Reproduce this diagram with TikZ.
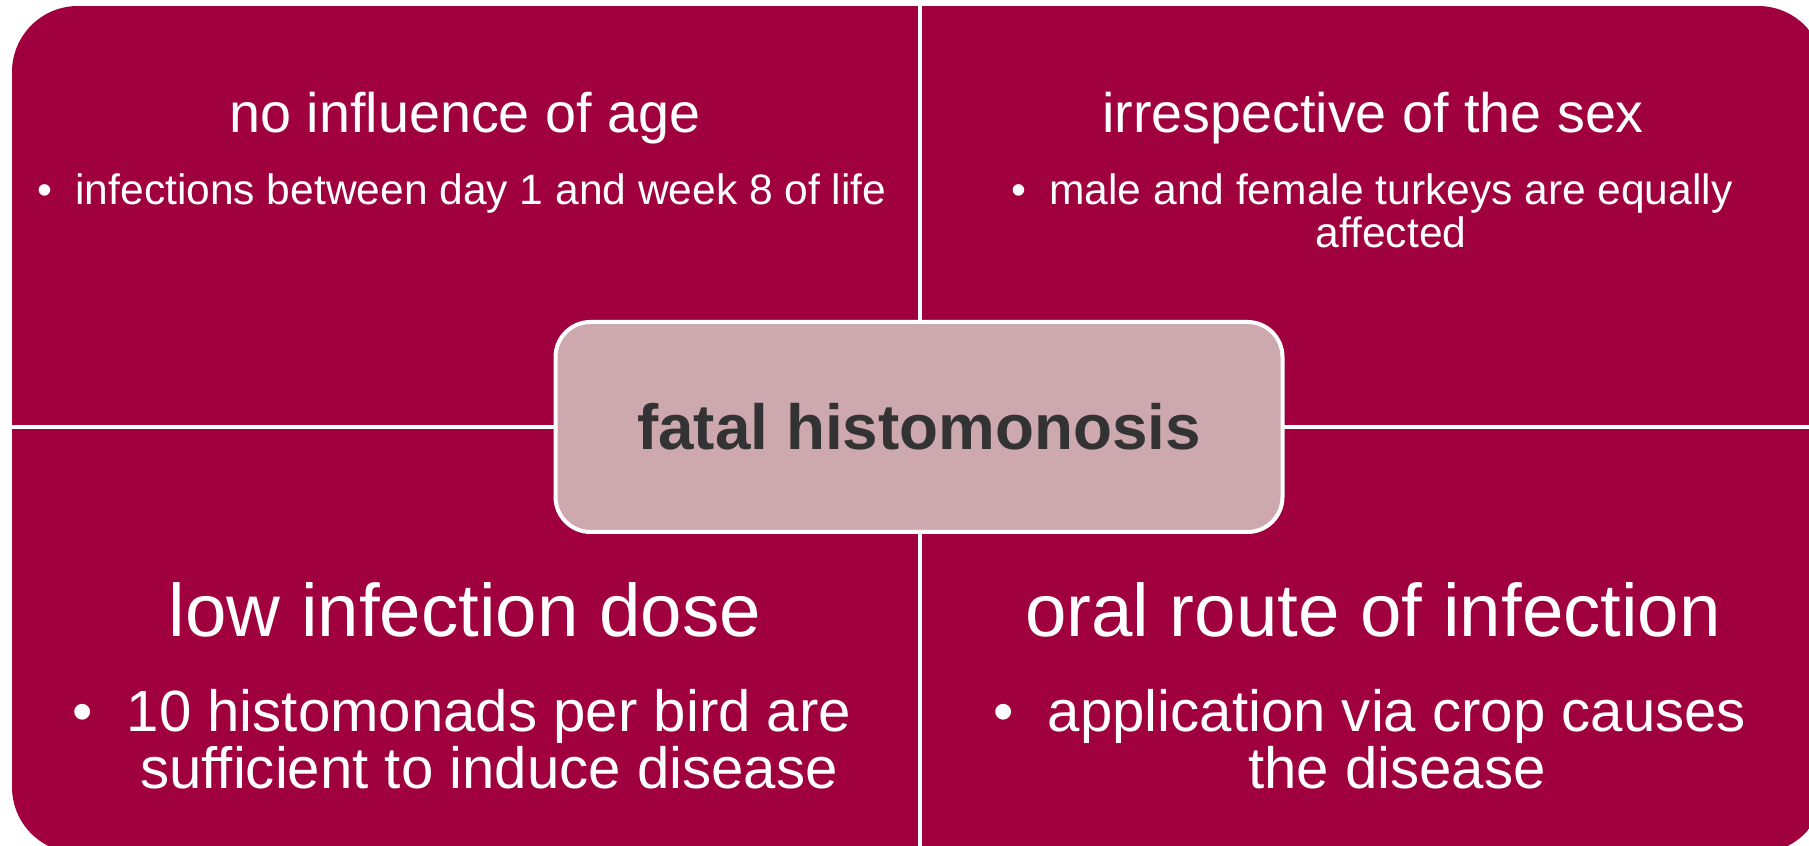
\documentclass[tikz,border=0pt]{standalone}
\usepackage{fontspec}
\setmainfont{Liberation Sans}
\usetikzlibrary{positioning}
\definecolor{crimson}{HTML}{A0003D}
\definecolor{rosegrey}{HTML}{CDA9AF}
\definecolor{inkgrey}{HTML}{333333}
\newcommand{\itembul}[1]{\llap{\textbullet\hspace{#1}}}
\tikzset{
  quad/.style   = {fill=crimson},
  headt/.style  = {anchor=base, text=white, inner sep=0pt, font=\fontsize{15.85}{19}\selectfont},
  ptt/.style    = {anchor=base, text=white, inner sep=0pt, align=center,
                   font=\fontsize{12.1}{12.3}\selectfont},
  headb/.style  = {anchor=base, text=white, inner sep=0pt, font=\fontsize{21.2}{25}\selectfont},
  ptb/.style    = {anchor=base, text=white, inner sep=0pt, align=center,
                   font=\fontsize{16.55}{16.4}\selectfont},
  core/.style   = {draw=white, line width=0.4mm, fill=rosegrey, rounded corners=3.5mm,
                   minimum width=72.7mm, minimum height=21mm, text=inkgrey,
                   font=\fontsize{18.15}{22}\selectfont\bfseries},
}
\begin{document}
\begin{tikzpicture}[x=0.1mm, y=0.1mm]
\useasboundingbox (0,0) rectangle (1809,846);
% --- the four quadrants, one rounded outline cut by white gaps ---------------------------
\begin{scope}
  \clip[rounded corners=6.6mm] (12,-7) rectangle (1824,840);
  \fill[quad] (12,421)  rectangle (918,840);
  \fill[quad] (922,421) rectangle (1824,840);
  \fill[quad] (12,-7)   rectangle (918,417);
  \fill[quad] (922,-7)  rectangle (1824,417);
\end{scope}

% top row (two-line nodes sit on the baseline of their last line)
\node[headt] (agehd) at (465,713) {no influence of age};
\node[ptt]   (agept) at (481,641) {\itembul{6.7pt}infections between day 1 and week 8 of life};
\node[headt] (sexhd) at (1373,713) {irrespective of the sex};
\node[ptt]   (sexpt) at (1391,598) {\itembul{6.7pt}male and female turkeys are equally\\ affected};
% bottom row
\node[headb] (dosehd) at (465,209) {low infection dose};
\node[ptb]   (dosept) at (489,57) {\itembul{9.6pt}10 histomonads per bird are\\ sufficient to induce disease};
\node[headb] (routehd) at (1373,209) {oral route of infection};
\node[ptb]   (routept) at (1397,57) {\itembul{9.6pt}application via crop causes\\ the disease};

% centre box
\node[core] (fatal) at (919,419) {fatal histomonosis};
\end{tikzpicture}
\end{document}
